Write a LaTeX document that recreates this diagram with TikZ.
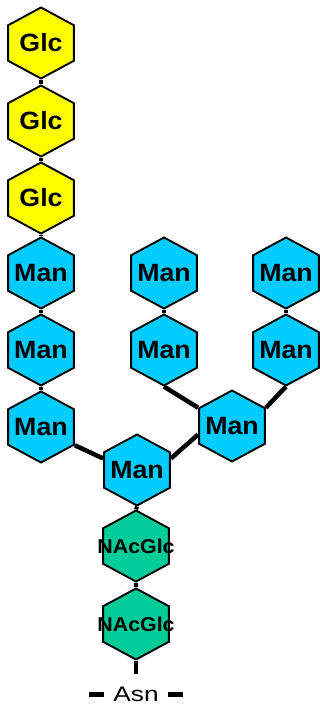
\documentclass[tikz,border=0pt]{standalone}
\usepackage{fontspec}
\setmainfont{Liberation Sans}
\usetikzlibrary{shapes.geometric}

\definecolor{glcyellow}{RGB}{255,255,0}
\definecolor{mancyan}{RGB}{0,204,255}
\definecolor{nacgreen}{RGB}{0,204,153}

\newcommand{\sugar}[1]{\makebox[0pt]{#1}}

\tikzset{
  hexa/.style={regular polygon,regular polygon sides=6,regular polygon rotate=30,
    minimum size=71pt,inner sep=0pt,draw,line width=1.9pt,xscale=1.07,
    font=\bfseries\fontsize{25}{30}\selectfont},
  glc/.style={hexa,fill=glcyellow},
  man/.style={hexa,fill=mancyan},
  nac/.style={hexa,fill=nacgreen,font=\bfseries\fontsize{20}{24}\selectfont},
  bond/.style={line width=4pt},
  branch/.style={line width=4.5pt},
}

\begin{document}
\begin{tikzpicture}[x=1pt,y=-1pt]
    \useasboundingbox (0,0) rectangle (320,705);

    %% glucose cap
    \node (g1) at (41,43) [glc] {\sugar{Glc}};
    \node (g2) at (41,121) [glc] {\sugar{Glc}};
    \node (g3) at (41,198) [glc] {\sugar{Glc}};

    %% left arm
    \node (m1) at (41,273) [man] {\sugar{Man}};
    \node (m2) at (41,350) [man] {\sugar{Man}};
    \node (m3) at (41,427) [man] {\sugar{Man}};

    %% middle arm
    \node (m4) at (164,273) [man] {\sugar{Man}};
    \node (m5) at (164,350) [man] {\sugar{Man}};

    %% right arm
    \node (m6) at (286,273) [man] {\sugar{Man}};
    \node (m7) at (286,350) [man] {\sugar{Man}};
    \node (m8) at (232,426) [man] {\sugar{Man}};

    %% core
    \node (m0) at (137,470) [man] {\sugar{Man}};
    \node (n2) at (136,546) [nac] {\sugar{NAcGlc}};
    \node (n1) at (136,624) [nac] {\sugar{NAcGlc}};
    \coordinate (stem) at (136,674);

    \node (asn) at (136,694) [inner sep=1pt,font=\fontsize{21}{25}\selectfont,xscale=1.25] {Asn};

    %% bonds
    \draw[bond] (g1.south) -- (g2.north);
    \draw[bond] (g2.south) -- (g3.north);
    \draw[bond] (g3.south) -- (m1.north);
    \draw[bond] (m1.south) -- (m2.north);
    \draw[bond] (m2.south) -- (m3.north);
    \draw[bond] (m4.south) -- (m5.north);
    \draw[bond] (m6.south) -- (m7.north);
    \draw[bond] (m0.south) -- (n2.north);
    \draw[bond] (n2.south) -- (n1.north);
    \draw[bond] (n1.south) -- (stem);

    %% branch points
    \draw[branch] (m3.330) -- (m0.160);
    \draw[branch] (m0.20) -- (m8.195);
    \draw[branch] (m5.south) -- (m8.150);
    \draw[branch] (m7.south) -- (m8.30);

    %% Asn
    \draw[line width=5pt] ([xshift=-8pt]asn.west) -- ++(-15,0);
    \draw[line width=5pt] ([xshift=8pt]asn.east) -- ++(15,0);
  \end{tikzpicture}
\end{document}
